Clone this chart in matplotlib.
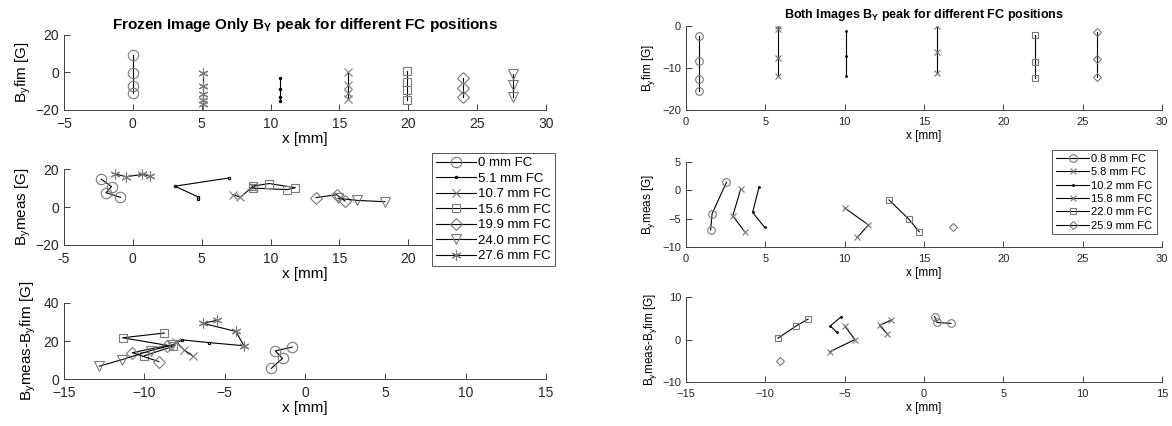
import matplotlib
matplotlib.use('Agg')
import matplotlib.pyplot as plt

plt.rcParams['font.family'] = ['Liberation Sans', 'DejaVu Sans']
plt.rcParams['mathtext.fontset'] = 'custom'
plt.rcParams['mathtext.rm'] = 'Liberation Sans'
plt.rcParams['mathtext.bf'] = 'Liberation Sans:bold'

# --- Frozen image only (left) ---
fc_left = ['0 mm FC', '5.1 mm FC', '10.7 mm FC', '15.6 mm FC', '19.9 mm FC', '24.0 mm FC', '27.6 mm FC']
mk_left = ['o', '.', 'x', 's', 'D', 'v', '*']

# top: B_y fim at each FC position
pos_left = [0, 5.1, 10.7, 15.6, 19.9, 24.0, 27.6]
mk_top_left = ['o', '*', '.', 'x', 's', 'D', 'v']
fim_left = [[9.5, -0.5, -7, -11], [-0.5, -7.5, -11.5, -14.5, -17], [-3, -9, -13, -15.5],
            [0, -6.5, -11, -14], [0.8, -5, -9.5, -14.5], [-3, -8.5, -13], [-1, -6.5, -13]]

# middle: B_y meas vs x
xmeas_left = [[-2.3, -1.55, -1.95, -0.9], [4.7, 4.7, 3.05, 6.95], [7.3, 7.8, 8.7],
              [8.7, 9.9, 11.8, 11.2, 8.7], [13.3, 14.8, 15.4], [14.9, 16.3, 18.3],
              [-1.3, -0.5, 0.7, 1.25]]
meas_left = [[14.7, 10.8, 7.6, 5.1], [4.0, 5.5, 11.0, 15.3], [6.6, 5.1, 10.8],
             [11.0, 12.4, 10.2, 9.2, 10.0], [5.0, 6.5, 3.2], [4.6, 3.5, 2.8],
             [17.5, 16.0, 17.2, 16.3]]

# bottom: B_y meas - B_y fim vs x
xdiff_left = [[-2.1, -1.4, -1.85, -0.8], [-8.2, -7.65, -6.0, -3.8], [-8.0, -7.55, -7.0],
              [-8.75, -11.35, -8.2, -10.0], [-9.1, -10.75, -8.6], [-12.8, -11.4, -9.6, -8.3],
              [-5.5, -6.35, -4.3, -3.8]]
diff_left = [[5.6, 10.9, 14.8, 16.8], [18.0, 20.6, 19.2, 17.5], [19.5, 15.5, 12.2],
             [24.2, 21.7, 17.2, 12.3], [9.2, 13.9, 17.6], [6.8, 10.2, 15.0, 17.8],
             [30.8, 29.3, 25.0, 17.5]]

# --- Both images (right) ---
fc_right = ['0.8 mm FC', '5.8 mm FC', '10.2 mm FC', '15.8 mm FC', '22.0 mm FC', '25.9 mm FC']
mk_right = ['o', 'x', '.', 'x', 's', 'D']
pos_right = [0.84, 5.82, 10.1, 15.84, 22.0, 25.9]
fim_right = [[-2.3, -8.3, -12.6, -15.4], [0, -0.8, -7.7, -11.9], [-1.1, -7.1, -11.9],
             [0.0, -6.3, -11.3], [-2.1, -8.5, -12.5], [-1.5, -7.9, -12.1]]

xmeas_right = [[2.55, 1.65, 1.55], [3.45, 2.95, 3.7], [4.6, 4.2, 4.95],
               [10.0, 11.5, 10.8], [12.8, 14.05, 14.7], [16.8]]
meas_right = [[1.4, -4.1, -7.0], [0.2, -4.5, -7.3], [0.5, -3.9, -6.5],
              [-3.1, -6.1, -8.3], [-1.7, -5.1, -7.3], [-6.5]]

xdiff_right = [[0.67, 0.82, 1.7], [-2.05, -2.8, -2.3], [-5.2, -5.9, -5.5],
               [-5.0, -4.35, -5.95], [-9.2, -8.05, -7.3], [-9.1]]
diff_right = [[5.4, 4.0, 3.8], [4.6, 3.3, 1.3], [5.4, 3.2, 1.7],
              [3.2, 0.0, -2.9], [0.3, 3.2, 4.8], [-5.1]]

AX_COL = '#404040'
MK_COL = '#7a7a7a'
# relative marker sizes (MATLAB look)
MK_SCALE = {'o': 1.0, '.': 0.45, 'x': 0.8, 's': 0.8, 'D': 0.75, 'v': 0.9, '*': 0.95}
MK_SHAPE = {'*': (6, 2, 0)}  # asterisk, not star


def style_axes(ax, fs):
    ax.spines['top'].set_visible(False)
    ax.spines['right'].set_visible(False)
    for s in ('left', 'bottom'):
        ax.spines[s].set_color(AX_COL)
        ax.spines[s].set_linewidth(0.7)
    ax.tick_params(direction='in', length=4, width=0.7, colors=AX_COL,
                   labelcolor='#262626', labelsize=fs)
    ax.tick_params(axis='x', pad=5)


def draw(ax, xs, ys, markers, ms, labels=None):
    for i in range(len(xs)):
        mk = markers[i]
        mec = 'black' if mk == '.' else MK_COL
        ax.plot(xs[i], ys[i], color='black', lw=0.8, marker=MK_SHAPE.get(mk, mk),
                ms=ms * MK_SCALE[mk], mfc='none', mec=mec, mew=0.8,
                label=labels[i] if labels else None)


fig = plt.figure(figsize=(11.72, 4.26), dpi=100)

# left column
axL1 = fig.add_axes([0.0546, 0.742, 0.4113, 0.176])
axL2 = fig.add_axes([0.0546, 0.425, 0.4113, 0.178])
axL3 = fig.add_axes([0.0546, 0.110, 0.4113, 0.179])

draw(axL1, [[p] * len(f) for p, f in zip(pos_left, fim_left)], fim_left, mk_top_left, 7.5)
draw(axL2, xmeas_left, meas_left, mk_left, 7.5, fc_left)
draw(axL3, xdiff_left, diff_left, mk_left, 7.5)

axL1.set_xlim(-5, 30); axL1.set_ylim(-20, 20); axL1.set_yticks([-20, 0, 20])
axL2.set_xlim(-5, 30); axL2.set_ylim(-20, 20); axL2.set_yticks([-20, 0, 20])
axL3.set_xlim(-15, 15); axL3.set_ylim(0, 40); axL3.set_yticks([0, 20, 40])
axL1.set_xticks(range(-5, 31, 5))
# 25 and 30 sit under the legend in the middle panel
axL2.set_xticks(range(-5, 31, 5), ['-5', '0', '5', '10', '15', '20', '', ''])
axL3.set_xticks(range(-15, 16, 5))

axL1.set_ylabel(r'B$_{\rm y}$fim [G]', fontsize=11, labelpad=2)
axL2.set_ylabel(r'B$_{\rm y}$meas [G]', fontsize=11, labelpad=2)
axL3.set_ylabel(r'B$_{\rm y}$meas-B$_{\rm y}$fim [G]', fontsize=11, labelpad=4)
for ax in (axL1, axL2, axL3):
    style_axes(ax, 10)
    ax.set_xlabel('x [mm]', fontsize=11, labelpad=1)
axL1.set_title(r'Frozen Image Only B$_\mathbf{Y}$ peak for different FC positions',
               fontsize=11, fontweight='bold', pad=4)

legL = axL2.legend(loc='upper left', bbox_to_anchor=(0.3686, 0.641),
                   bbox_transform=fig.transFigure, borderaxespad=0, fontsize=9.5,
                   handlelength=3.0, labelspacing=0.25, borderpad=0.3, handletextpad=0.2,
                   fancybox=False, framealpha=1, edgecolor='#555555')
legL.get_frame().set_linewidth(0.7)

# right column
axR1 = fig.add_axes([0.5853, 0.742, 0.4061, 0.197])
axR2 = fig.add_axes([0.5853, 0.420, 0.4061, 0.200])
axR3 = fig.add_axes([0.5853, 0.103, 0.4061, 0.200])

draw(axR1, [[p] * len(f) for p, f in zip(pos_right, fim_right)], fim_right, mk_right, 5.5)
draw(axR2, xmeas_right, meas_right, mk_right, 5.5, fc_right)
draw(axR3, xdiff_right, diff_right, mk_right, 5.5)

axR1.set_xlim(0, 30); axR1.set_ylim(-20, 0); axR1.set_yticks([-20, -10, 0])
axR2.set_xlim(0, 30); axR2.set_ylim(-10, 5); axR2.set_yticks([-10, -5, 0, 5])
axR3.set_xlim(-15, 15); axR3.set_ylim(-10, 10); axR3.set_yticks([-10, 0, 10])
axR1.set_xticks(range(0, 31, 5)); axR2.set_xticks(range(0, 31, 5))
axR3.set_xticks(range(-15, 16, 5))

axR1.set_ylabel(r'B$_{\rm y}$fim [G]', fontsize=8.5, labelpad=4)
axR2.set_ylabel(r'B$_{\rm y}$meas [G]', fontsize=8.5, labelpad=4)
axR3.set_ylabel(r'B$_{\rm y}$meas-B$_{\rm y}$fim [G]', fontsize=8.5, labelpad=2)
for ax in (axR1, axR2, axR3):
    style_axes(ax, 8)
    ax.set_xlabel('x [mm]', fontsize=8.5, labelpad=2)
axR1.set_title(r'Both Images B$_\mathbf{Y}$ peak for different FC positions',
               fontsize=9, fontweight='bold', pad=6)

legR = axR2.legend(loc='upper left', bbox_to_anchor=(0.8976, 0.648),
                   bbox_transform=fig.transFigure, borderaxespad=0, fontsize=8,
                   handlelength=3.0, labelspacing=0.3, borderpad=0.35, handletextpad=0.2,
                   fancybox=False, framealpha=1, edgecolor='#555555')
legR.get_frame().set_linewidth(0.7)

fig.savefig('out.png', dpi=100)
